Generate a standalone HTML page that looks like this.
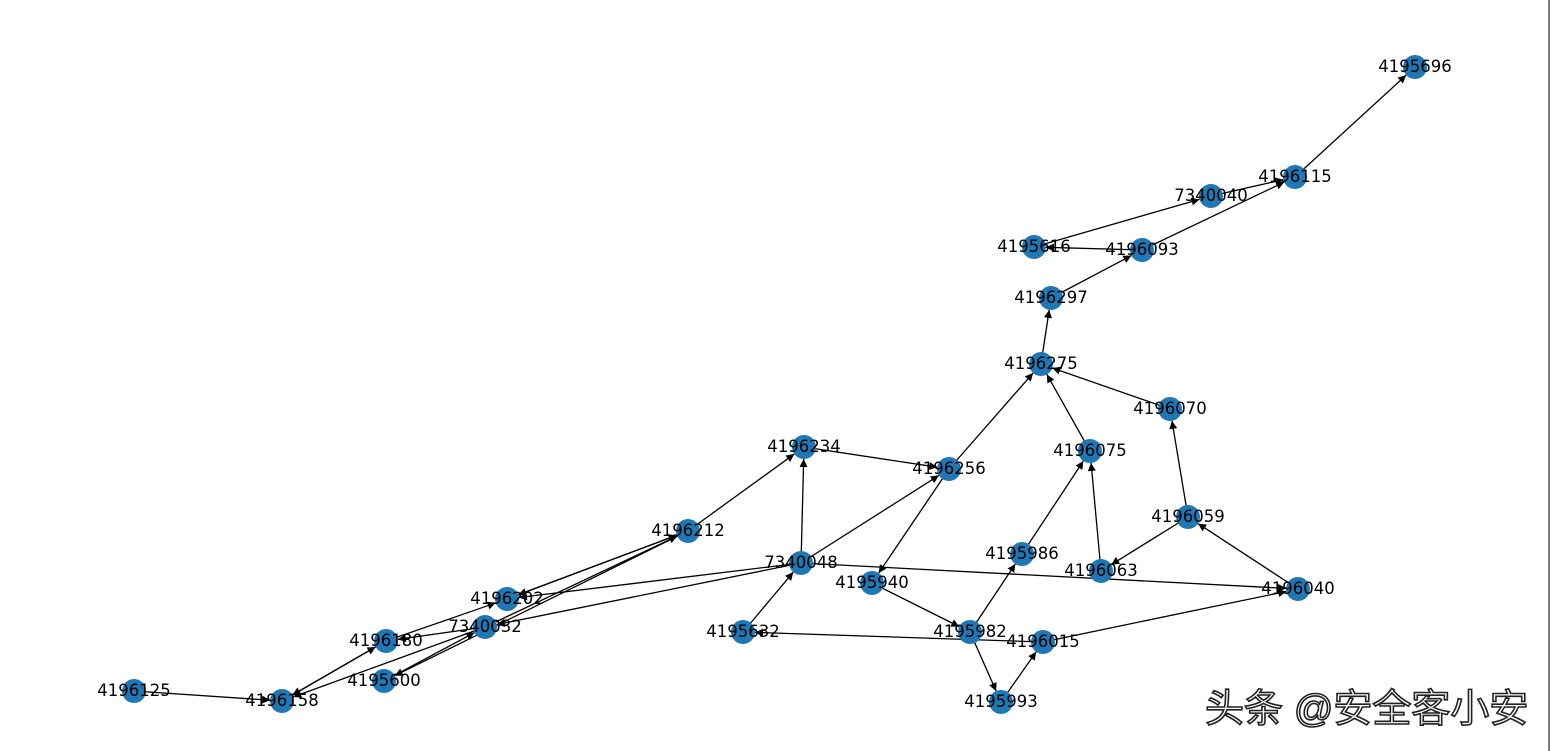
<!DOCTYPE html>
<html><head><meta charset="utf-8"><style>
html,body{margin:0;padding:0;background:#fff;width:1551px;height:751px;overflow:hidden}
svg{display:block}
text{font-family:"DejaVu Sans","Liberation Sans",sans-serif;font-size:16.5px;fill:#000}
.wm{font-family:"Liberation Sans","Noto Sans CJK SC",sans-serif;font-size:39px;fill:#fff;stroke:#222;stroke-width:1.6px}
</style></head><body>
<svg id="s" width="1551" height="751" viewBox="0 0 1551 751" xmlns="http://www.w3.org/2000/svg">
<defs><marker id="a" viewBox="0 0 10 10" refX="10" refY="5" markerWidth="10" markerHeight="8" markerUnits="userSpaceOnUse" orient="auto"><path d="M0,0L10,5L0,10z" fill="#000"/></marker></defs>
<line x1="1549" y1="0" x2="1549" y2="751" stroke="#000" stroke-width="1"/>
<g id="e"></g><g id="n"></g><g id="t"></g>
<text class="wm" x="1205" y="722">头条 @安全客小安</text>
</svg>
<script>
var N={"4195696":[1415,67],"4196115":[1295,177],"7340040":[1211,196],"4195616":[1034,247],"4196093":[1142,250],"4196297":[1051,298],"4196275":[1041,364],"4196070":[1170,409],"4196075":[1090,451],"4196234":[804,447],"4196256":[949,469],"4196059":[1188,517],"4196212":[688,531],"4195986":[1022,554],"7340048":[801,563],"4196063":[1101,571],"4195940":[872,583],"4196040":[1298,589],"4196202":[507,599],"4196180":[386,641],"7340032":[485,627],"4195632":[743,632],"4195982":[970,632],"4196015":[1043,642],"4195600":[384,681],"4196125":[134,691],"4196158":[282,701],"4195993":[1001,702]};
var E=[["4196115","4195696"],["7340040","4196115"],["4196093","4196115"],["4195616","7340040"],["4196093","4195616"],["4196297","4196093"],["4196275","4196297"],["4196070","4196275"],["4196075","4196275"],["4196256","4196275"],["4196059","4196070"],["4195986","4196075"],["4196063","4196075"],["4196059","4196063"],["4196040","4196059"],["4196234","4196256"],["4196256","4195940"],["4196212","4196234"],["7340048","4196234"],["7340048","4196256"],["7340048","4196040"],["7340048","4196202"],["4196202","4196212"],["7340032","4196212"],["4196212","4196202"],["4196212","4195600"],["4195600","7340032"],["7340048","7340032"],["7340032","4196158"],["7340032","4196180"],["4196180","4196202"],["4196158","4196180"],["4196180","4196158"],["4196125","4196158"],["4195632","7340048"],["4196015","4195632"],["4195940","4195982"],["4195982","4195986"],["4195982","4195993"],["4195993","4196015"],["4196015","4196040"]];
var ns="http://www.w3.org/2000/svg",ge=document.getElementById("e"),gn=document.getElementById("n"),gt=document.getElementById("t");
E.forEach(function(p){var a=N[p[0]],b=N[p[1]],dx=b[0]-a[0],dy=b[1]-a[1],d=Math.hypot(dx,dy),r=12;
var l=document.createElementNS(ns,"line");l.setAttribute("x1",a[0]);l.setAttribute("y1",a[1]);
l.setAttribute("x2",b[0]-dx/d*r);l.setAttribute("y2",b[1]-dy/d*r);l.setAttribute("stroke","#000");l.setAttribute("stroke-width","1.3");l.setAttribute("marker-end","url(#a)");ge.appendChild(l);});
for(var k in N){var c=document.createElementNS(ns,"circle");c.setAttribute("cx",N[k][0]);c.setAttribute("cy",N[k][1]);c.setAttribute("r",12);c.setAttribute("fill","#1f77b4");gn.appendChild(c);
var t=document.createElementNS(ns,"text");t.setAttribute("x",N[k][0]);t.setAttribute("y",N[k][1]+5);t.setAttribute("text-anchor","middle");t.textContent=k;gt.appendChild(t);}
</script>
</body></html>
